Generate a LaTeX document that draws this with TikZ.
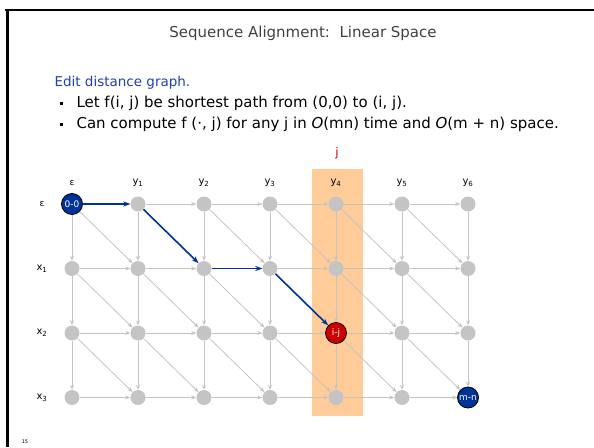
\documentclass[tikz,border=0pt]{standalone}
\usepackage{fontspec}
\setmainfont{DejaVu Sans}
\usetikzlibrary{arrows.meta}
\definecolor{blucammino}{HTML}{003399}
\definecolor{rossonodo}{HTML}{CC0000}
\definecolor{grigio}{HTML}{C4C4C4}
\definecolor{arancio}{HTML}{FFCC99}
\definecolor{blutesto}{HTML}{2040B0}
\tikzset{
  vertice/.style={circle, fill=grigio, minimum size=15pt, inner sep=0pt},
  speciale/.style={circle, draw=black, line width=0.8pt, minimum size=21pt,
    inner sep=0pt, text=white, font=\fontsize{9}{9}\selectfont},
  arco/.style={draw=grigio, line width=0.8pt, -{Stealth[length=5pt,width=4pt]}},
  cammino/.style={draw=blucammino, line width=1.6pt, -{Stealth[length=7pt,width=5pt]}},
  etichetta/.style={font=\fontsize{10}{10}\selectfont},
}
\begin{document}
\begin{tikzpicture}[x=1pt,y=-1pt]
  \useasboundingbox (0,0) rectangle (594,447);
  % Cornice
  \draw[line width=2.5pt] (5,10) -- (594,10);
  \draw[line width=2.5pt] (7.5,10) -- (7.5,447);
  % Testo
  \node[font=\fontsize{15}{15}\selectfont, text=black!75] (titolo) at (303,33) {Sequence Alignment:\ \ Linear Space};
  \node[anchor=west, font=\fontsize{13.5}{13.5}\selectfont, text=blutesto] (sotto) at (51,83) {Edit distance graph.};
  \node[anchor=west, font=\fontsize{15}{15}\selectfont] (riga1) at (73,103) {Let f(i, j) be shortest path from (0,0) to (i, j).};
  \node[anchor=west, font=\fontsize{15}{15}\selectfont] (riga2) at (73,124) {Can compute f (·, j) for any j in \textit{O}(mn) time and \textit{O}(m + n) space.};
  \fill (60,102) rectangle (62.5,104.5);
  \fill (60,123) rectangle (62.5,125.5);
  \node[font=\fontsize{5}{5}\selectfont] (pagina) at (25,442) {15};
  % Colonna j
  \fill[arancio] (312,169) rectangle (363,416);
  \node[text=rossonodo, font=\fontsize{12}{12}\selectfont] (jlab) at (337,153) {j};
  % Etichette di colonna e di riga
  \foreach \lab [count=\c from 0] in {{\small ε}, y\textsubscript{1}, y\textsubscript{2}, y\textsubscript{3}, y\textsubscript{4}, y\textsubscript{5}, y\textsubscript{6}}
    \node[etichetta] (col-\c) at ({72+66*\c},183) {\lab};
  \foreach \lab [count=\r from 0] in {{\small ε}, x\textsubscript{1}, x\textsubscript{2}, x\textsubscript{3}}
    \node[etichetta] (rig-\r) at (42,{204+64.5*\r}) {\lab};
  % Vertici
  \foreach \i in {0,...,3}
    \foreach \j in {0,...,6}
      \node[vertice] (n-\i-\j) at ({72+66*\j},{204+64.5*\i}) {};
  \node[speciale, fill=blucammino] (n-0-0) at (n-0-0) {0-0};
  \node[speciale, fill=rossonodo] (n-2-4) at (n-2-4) {i-j};
  \node[speciale, fill=blucammino] (n-3-6) at (n-3-6) {m-n};
  % Archi orizzontali, verticali e diagonali
  \foreach \i in {0,...,3}
    \foreach \j [count=\k] in {0,...,5}
      \draw[arco] (n-\i-\j) -- (n-\i-\k);
  \foreach \i [count=\k] in {0,...,2}
    \foreach \j in {0,...,6}
      \draw[arco] (n-\i-\j) -- (n-\k-\j);
  \foreach \i [count=\k] in {0,...,2}
    \foreach \j [count=\l] in {0,...,5}
      \draw[arco] (n-\i-\j) -- (n-\k-\l);
  % Cammino minimo
  \draw[cammino] (n-0-0) -- (n-0-1);
  \draw[cammino] (n-0-1) -- (n-1-2);
  \draw[cammino] (n-1-2) -- (n-1-3);
  \draw[cammino] (n-1-3) -- (n-2-4);
\end{tikzpicture}
\end{document}
